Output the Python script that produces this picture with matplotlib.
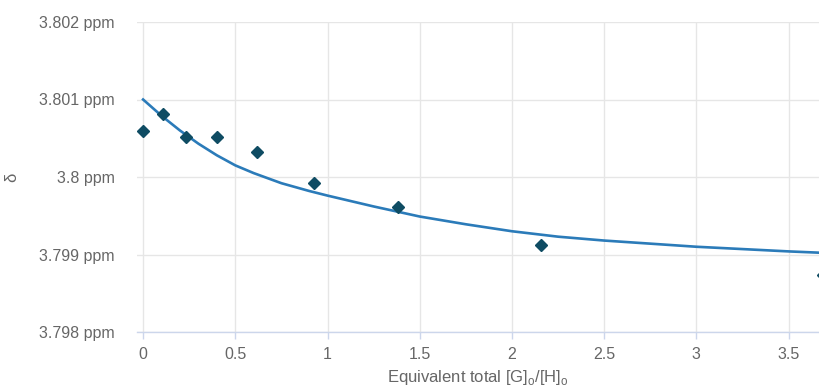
import matplotlib.pyplot as plt

plt.rcParams['font.family'] = ['Liberation Sans', 'DejaVu Sans']
plt.rcParams['mathtext.fontset'] = 'custom'
plt.rcParams['mathtext.rm'] = 'Liberation Sans'

# measured points (equivalents, shift in ppm)
eq_pts = [0.0, 0.107, 0.233, 0.40, 0.62, 0.925, 1.38, 2.16, 3.685]
shift_pts = [3.80060, 3.80081, 3.80051, 3.80051, 3.80032, 3.79992, 3.79961, 3.79912, 3.79873]

# fitted curve
eq_fit = [0.0, 0.1, 0.2, 0.3, 0.4, 0.5, 0.6, 0.75, 0.9, 1.0, 1.25, 1.5, 1.75,
          2.0, 2.25, 2.5, 3.0, 3.5, 3.7]
shift_fit = [3.80100, 3.80079, 3.80060, 3.80043, 3.80028, 3.80015, 3.80005, 3.79992,
             3.79982, 3.79976, 3.79962, 3.79949, 3.79939, 3.79930, 3.79923, 3.79918,
             3.79910, 3.79904, 3.79902]

xticks = [0, 0.5, 1, 1.5, 2, 2.5, 3, 3.5]
xticklabels = ['0', '0.5', '1', '1.5', '2', '2.5', '3', '3.5']
yticks = [3.798, 3.799, 3.800, 3.801, 3.802]
yticklabels = ['3.798 ppm', '3.799 ppm', '3.8 ppm', '3.801 ppm', '3.802 ppm']

fig = plt.figure(figsize=(8.19, 3.88), dpi=100)
ax = fig.add_axes([137/819, 1 - 332/388, 1 - 137/819, (332 - 22)/388])

ax.plot(eq_fit, shift_fit, color='#2b7bb9', lw=1.9, zorder=3)
ax.plot(eq_pts, shift_pts, 'D', color='#0f4c63', ms=6.5, zorder=4)

ax.set_xlim(-0.033, 3.665)
ax.set_ylim(3.798, 3.802)
ax.set_xticks(xticks)
ax.set_xticklabels(xticklabels)
ax.set_yticks(yticks)
ax.set_yticklabels(yticklabels)

ax.grid(True, color='#e6e6e6', lw=1)
ax.set_axisbelow(True)
for s in ['top', 'right', 'left']:
    ax.spines[s].set_visible(False)
ax.spines['bottom'].set_color('#ccd6eb')
ax.spines['bottom'].set_linewidth(1)

ax.tick_params(axis='x', colors='#ccd6eb', length=5, width=1, pad=6,
               labelcolor='#666666', labelsize=11.5)
ax.tick_params(axis='y', length=0, pad=16, labelcolor='#666666', labelsize=11.5)

ax.set_xlabel('Equivalent total [G]$_\\mathrm{o}$/[H]$_\\mathrm{o}$', color='#666666',
              fontsize=12, labelpad=4)
ax.set_ylabel('δ', color='#666666', fontsize=12, labelpad=14)

fig.savefig('out.png', dpi=100)
